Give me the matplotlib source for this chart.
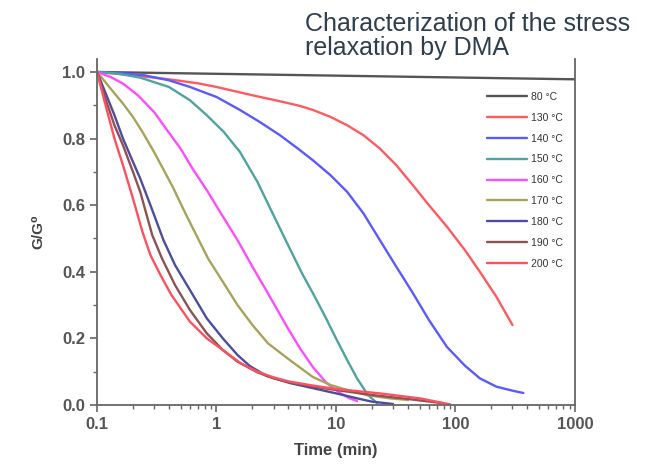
import matplotlib
matplotlib.use('Agg')
import matplotlib.pyplot as plt
from matplotlib.ticker import FixedLocator, FixedFormatter, LogLocator, NullFormatter, MultipleLocator

plt.rcParams['font.family'] = ['Liberation Sans', 'DejaVu Sans']

# Stress relaxation curves (time in min, normalised modulus G/G0)
t_80 = [0.1, 10, 1000]
g_80 = [1.0, 0.989, 0.978]

t_130 = [0.1, 0.2, 0.4, 0.7, 1, 2, 3.4, 5, 6.4, 9, 12.4, 17, 23.3, 32, 44, 60, 85, 120, 160, 220, 300]
g_130 = [1.0, 0.99, 0.978, 0.966, 0.955, 0.93, 0.912, 0.898, 0.886, 0.865, 0.84, 0.81, 0.77, 0.72,
         0.66, 0.6, 0.535, 0.465, 0.40, 0.325, 0.24]

t_140 = [0.1, 0.15, 0.25, 0.4, 0.6, 1, 1.57, 2.3, 3.4, 4.8, 6.4, 9, 12.4, 17, 23.3, 32, 44, 60, 85,
         120, 160, 220, 300, 370]
g_140 = [1.0, 0.997, 0.99, 0.975, 0.955, 0.925, 0.886, 0.85, 0.81, 0.77, 0.735, 0.69, 0.64, 0.575,
         0.495, 0.415, 0.336, 0.255, 0.174, 0.118, 0.08, 0.055, 0.043, 0.036]

t_150 = [0.1, 0.15, 0.23, 0.4, 0.6, 0.83, 1.15, 1.57, 2.2, 3.0, 4.1, 5.2, 6.4, 8, 10, 12.4, 15, 18.5, 22]
g_150 = [1.0, 0.995, 0.983, 0.955, 0.915, 0.87, 0.82, 0.76, 0.67, 0.57, 0.47, 0.395, 0.336, 0.27,
         0.2, 0.135, 0.08, 0.03, 0.006]

t_160 = [0.1, 0.13, 0.165, 0.22, 0.3, 0.385, 0.5, 0.64, 0.83, 1.07, 1.5, 2.0, 2.6, 3.3, 3.9, 5, 6.4,
         8.3, 10.8, 13, 15]
g_160 = [1.0, 0.985, 0.965, 0.93, 0.88, 0.826, 0.77, 0.706, 0.645, 0.58, 0.495, 0.415, 0.345, 0.28,
         0.234, 0.17, 0.114, 0.067, 0.036, 0.02, 0.012]

t_170 = [0.1, 0.13, 0.165, 0.2, 0.24, 0.3, 0.43, 0.55, 0.7, 0.85, 1.13, 1.5, 2.0, 2.7, 4.1, 6.4, 9,
         12.4, 18, 28, 40]
g_170 = [1.0, 0.95, 0.905, 0.865, 0.82, 0.76, 0.655, 0.575, 0.5, 0.44, 0.37, 0.3, 0.24, 0.185, 0.135,
         0.084, 0.06, 0.045, 0.03, 0.02, 0.015]

t_180 = [0.1, 0.12, 0.14, 0.165, 0.2, 0.23, 0.28, 0.36, 0.45, 0.6, 0.83, 1.13, 1.5, 1.9, 2.6, 4.1,
         6.5, 10, 15, 20, 30]
g_180 = [1.0, 0.93, 0.87, 0.8, 0.73, 0.68, 0.6, 0.495, 0.42, 0.345, 0.26, 0.2, 0.15, 0.117, 0.088,
         0.066, 0.05, 0.035, 0.02, 0.01, 0.003]

t_190 = [0.1, 0.12, 0.14, 0.165, 0.2, 0.23, 0.29, 0.35, 0.45, 0.6, 0.83, 1.13, 1.5, 2.2, 3.0, 4.1,
         6.5, 10, 20, 40, 80]
g_190 = [1.0, 0.91, 0.84, 0.78, 0.7, 0.64, 0.51, 0.44, 0.36, 0.285, 0.215, 0.165, 0.13, 0.098, 0.08,
         0.068, 0.055, 0.045, 0.03, 0.018, 0.005]

t_200 = [0.1, 0.12, 0.14, 0.165, 0.2, 0.24, 0.28, 0.34, 0.42, 0.6, 0.83, 1.13, 1.6, 2.2, 3.0, 4.1,
         6.5, 10, 23, 50, 90]
g_200 = [1.0, 0.89, 0.8, 0.72, 0.62, 0.52, 0.45, 0.39, 0.33, 0.25, 0.2, 0.165, 0.125, 0.1, 0.083,
         0.07, 0.058, 0.048, 0.035, 0.02, 0.002]

labels = ['80 °C', '130 °C', '140 °C', '150 °C', '160 °C', '170 °C', '180 °C', '190 °C', '200 °C']
colors = ['#555555', '#ff5a5f', '#5a5aff', '#4fa3a0', '#ff4cff', '#a6a45a', '#4d4d9e', '#8e5252', '#ff5060']
times = [t_80, t_130, t_140, t_150, t_160, t_170, t_180, t_190, t_200]
values = [g_80, g_130, g_140, g_150, g_160, g_170, g_180, g_190, g_200]

x_ticks = [0.1, 1, 10, 100, 1000]
x_ticklabels = ['0.1', '1', '10', '100', '1000']
y_ticks = [0, 0.2, 0.4, 0.6, 0.8, 1.0]
y_ticklabels = ['0.0', '0.2', '0.4', '0.6', '0.8', '1.0']

fig = plt.figure(figsize=(6.48, 4.75), dpi=100)
ax = fig.add_axes([0.1497, 0.1474, 0.7376, 0.7284])

for t, g, lab, c in zip(times, values, labels, colors):
    ax.plot(t, g, color=c, lw=1.7, label=lab, solid_capstyle='round', solid_joinstyle='round')

ax.set_xscale('log')
ax.set_xlim(0.1, 1000)
ax.set_ylim(0, 1.039)
ax.xaxis.set_major_locator(FixedLocator(x_ticks))
ax.xaxis.set_major_formatter(FixedFormatter(x_ticklabels))
ax.xaxis.set_minor_locator(LogLocator(base=10, subs=range(2, 10)))
ax.xaxis.set_minor_formatter(NullFormatter())
ax.set_yticks(y_ticks)
ax.set_yticklabels(y_ticklabels)
ax.yaxis.set_minor_locator(MultipleLocator(0.1))

ax.spines['top'].set_visible(False)
for s in ['left', 'bottom', 'right']:
    ax.spines[s].set_color('#666666')
    ax.spines[s].set_linewidth(1.3)
ax.tick_params(which='major', direction='out', length=5, width=1.2, color='#666666',
               labelsize=12, labelcolor='#555555', right=False)
ax.tick_params(which='minor', direction='out', length=3, width=1.0, color='#666666', right=False)
for lbl in ax.get_xticklabels() + ax.get_yticklabels():
    lbl.set_fontweight('bold')

ax.set_xlabel('Time (min)', fontsize=12, fontweight='bold', color='#444444', labelpad=8)
ax.set_ylabel('G/G⁰', fontsize=11, fontweight='bold', color='#444444', labelpad=12)

leg = ax.legend(loc='upper left', bbox_to_anchor=(0.815, 0.905), frameon=False,
                fontsize=7.5, handlelength=3.85, handletextpad=0.4,
                labelspacing=1.04, borderpad=0, borderaxespad=0)
for txt in leg.get_texts():
    txt.set_color('#333333')

fig.text(0.471, 0.925, 'Characterization of the stress\nrelaxation by DMA',
         fontsize=18, color='#2f3e4e', ha='left', va='center', linespacing=1.0)

fig.savefig('out.png', dpi=100)
